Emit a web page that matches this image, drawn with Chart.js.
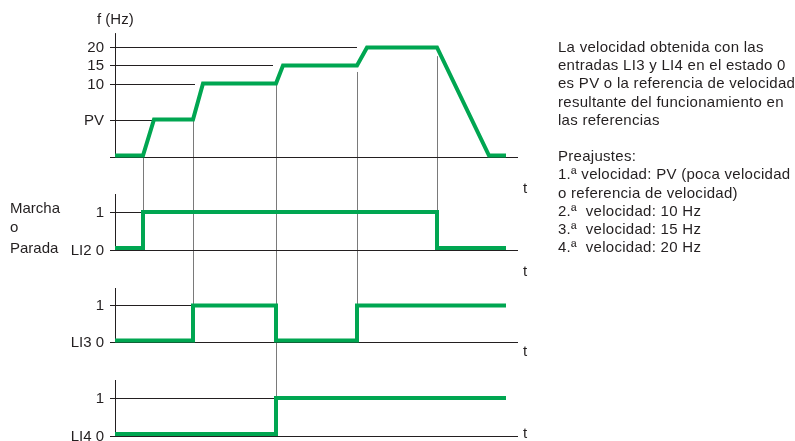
<!DOCTYPE html>
<html>
<head>
<meta charset="utf-8">
<script src="https://cdn.jsdelivr.net/npm/chart.js@4.4.0/dist/chart.umd.min.js"></script>
<style>
  body { margin: 0; background: #fff; }
  #wrap { position: relative; width: 795px; height: 441px; }
  #note {
    position: absolute; left: 558px; top: 38px;
    font: 15px "Liberation Sans", Arial, sans-serif;
    line-height: 18.2px; letter-spacing: 0.28px;
    color: #231f20; white-space: pre;
  }
</style>
</head>
<body>
<div id="wrap">
  <canvas id="chart" width="795" height="441"></canvas>
  <div id="note">La velocidad obtenida con las
entradas LI3 y LI4 en el estado 0
es PV o la referencia de velocidad
resultante del funcionamiento en
las referencias

Preajustes:
1.ª velocidad: PV (poca velocidad
o referencia de velocidad)
2.ª  velocidad: 10 Hz
3.ª  velocidad: 15 Hz
4.ª  velocidad: 20 Hz</div>
</div>
<script>
// time in diagram units, 0 = start
var freqTime  = [0, 28, 39, 78, 88, 161, 168, 242, 252, 322, 374, 391];
// diagram levels: 0 = stop, 10 = PV, 20 = 10 Hz, 25 = 15 Hz, 30 = 20 Hz
var freqLevel = [0, 0, 10, 10, 20, 20, 25, 25, 30, 30, 0, 0];
var freqTicks = [10, 20, 25, 30];
var freqTickLabels = ['PV', '10', '15', '20'];
var freqRefEnd = [38, 80, 158, 242];

var li2Time  = [0, 28, 28, 322, 322, 391];
var li2State = [0, 0, 1, 1, 0, 0];
var li3Time  = [0, 78, 78, 161, 161, 242, 242, 391];
var li3State = [0, 0, 1, 1, 0, 0, 1, 1];
var li4Time  = [0, 161, 161, 391];
var li4State = [0, 0, 1, 1];

// vertical guide lines: time, start (axis, value), end (axis, value)
var guides = [
    [28, 'yf', 0, 'y2', 1],
    [78, 'yf', 10, 'y3', 1],
    [161, 'yf', 20, 'y4', 1],
    [242, 'yf', 23.2, 'y3', 1],
    [322, 'yf', 27.6, 'y2', 1]
];

var GREEN = '#00a651';
var INK = '#231f20';
var H = 441;
var FONT = '15px "Liberation Sans", Arial, sans-serif';

// min/max so that value v0 lands at pixel p0 and v1 at p1
function range(v0, p0, v1, p1) {
    var k = (p0 - p1) / (v1 - v0);
    return { min: v0 - (H - p0) / k, max: v1 + p1 / k };
}

function pts(xs, ys) {
    return xs.map(function(x, i) { return { x: x, y: ys[i] }; });
}

var panels = [
    { axis: 'yf', top: 34, ticks: freqTicks, labels: freqTickLabels, refEnd: freqRefEnd, zero: '', tY: 189 },
    { axis: 'y2', top: 1.5, ticks: [1], labels: ['1'], refEnd: [28], zero: 'LI2 0', tY: 272 },
    { axis: 'y3', top: 1.5, ticks: [1], labels: ['1'], refEnd: [78], zero: 'LI3 0', tY: 352 },
    { axis: 'y4', top: 1.5, ticks: [1], labels: ['1'], refEnd: [161], zero: 'LI4 0', tY: 434 }
];

function line(ctx, x1, y1, x2, y2) {
    ctx.beginPath();
    ctx.moveTo(x1, y1);
    ctx.lineTo(x2, y2);
    ctx.stroke();
}

var diagram = {
    id: 'diagram',
    beforeDatasetsDraw: function(chart) {
        var ctx = chart.ctx;
        var xs = chart.scales.x;
        ctx.save();
        ctx.lineWidth = 1;

        // grey guides between panels
        ctx.strokeStyle = '#7a7a7a';
        guides.forEach(function(g) {
            var x = Math.round(xs.getPixelForValue(g[0])) + 0.5;
            line(ctx, x, chart.scales[g[1]].getPixelForValue(g[2]), x, chart.scales[g[3]].getPixelForValue(g[4]));
        });

        ctx.strokeStyle = INK;
        ctx.fillStyle = INK;
        ctx.font = FONT;
        ctx.textBaseline = 'middle';
        var xl = xs.getPixelForValue(-5);
        var x0 = Math.round(xs.getPixelForValue(0)) + 0.5;
        var xe = xs.getPixelForValue(403);
        panels.forEach(function(p) {
            var ys = chart.scales[p.axis];
            var yb = Math.round(ys.getPixelForValue(0) + 1.5) + 0.5;
            line(ctx, x0, ys.getPixelForValue(p.top), x0, yb);
            line(ctx, xl, yb, xe, yb);
            ctx.textAlign = 'right';
            p.ticks.forEach(function(v, i) {
                var y = Math.round(ys.getPixelForValue(v)) + 0.5;
                line(ctx, xl, y, xs.getPixelForValue(p.refEnd[i]), y);
                ctx.fillText(p.labels[i], xs.getPixelForValue(-11), y);
            });
            if (p.zero) ctx.fillText(p.zero, xs.getPixelForValue(-11), yb);
            ctx.textAlign = 'left';
            ctx.fillText('t', xs.getPixelForValue(408), p.tY);
        });

        ctx.textAlign = 'left';
        ctx.fillText('f (Hz)', 97, 20);
        ctx.fillText('Marcha', 10, 209);
        ctx.fillText('o', 10, 228);
        ctx.fillText('Parada', 10, 249);
        ctx.restore();
    }
};

var lineStyle = {
    borderColor: GREEN,
    borderWidth: 4,
    pointRadius: 0,
    tension: 0,
    borderJoinStyle: 'miter',
    fill: false
};

function ds(data, axis) {
    return Object.assign({ data: data, yAxisID: axis }, lineStyle);
}

var ctx = document.getElementById('chart').getContext('2d');
new Chart(ctx, {
    type: 'line',
    data: {
        datasets: [
            ds(pts(freqTime, freqLevel), 'yf'),
            ds(pts(li2Time, li2State), 'y2'),
            ds(pts(li3Time, li3State), 'y3'),
            ds(pts(li4Time, li4State), 'y4')
        ]
    },
    options: {
        responsive: false,
        animation: false,
        layout: { padding: { left: 100, right: 265, top: 0, bottom: 0 } },
        plugins: { legend: { display: false }, tooltip: { enabled: false } },
        scales: {
            x: { type: 'linear', min: -15, max: 415, display: false },
            yf: Object.assign({ type: 'linear', display: false }, range(0, 155.5, 30, 47.5)),
            y2: Object.assign({ type: 'linear', display: false }, range(0, 248, 1, 212)),
            y3: Object.assign({ type: 'linear', display: false }, range(0, 340.5, 1, 305.5)),
            y4: Object.assign({ type: 'linear', display: false }, range(0, 434, 1, 398))
        }
    },
    plugins: [diagram]
});
</script>
</body>
</html>
